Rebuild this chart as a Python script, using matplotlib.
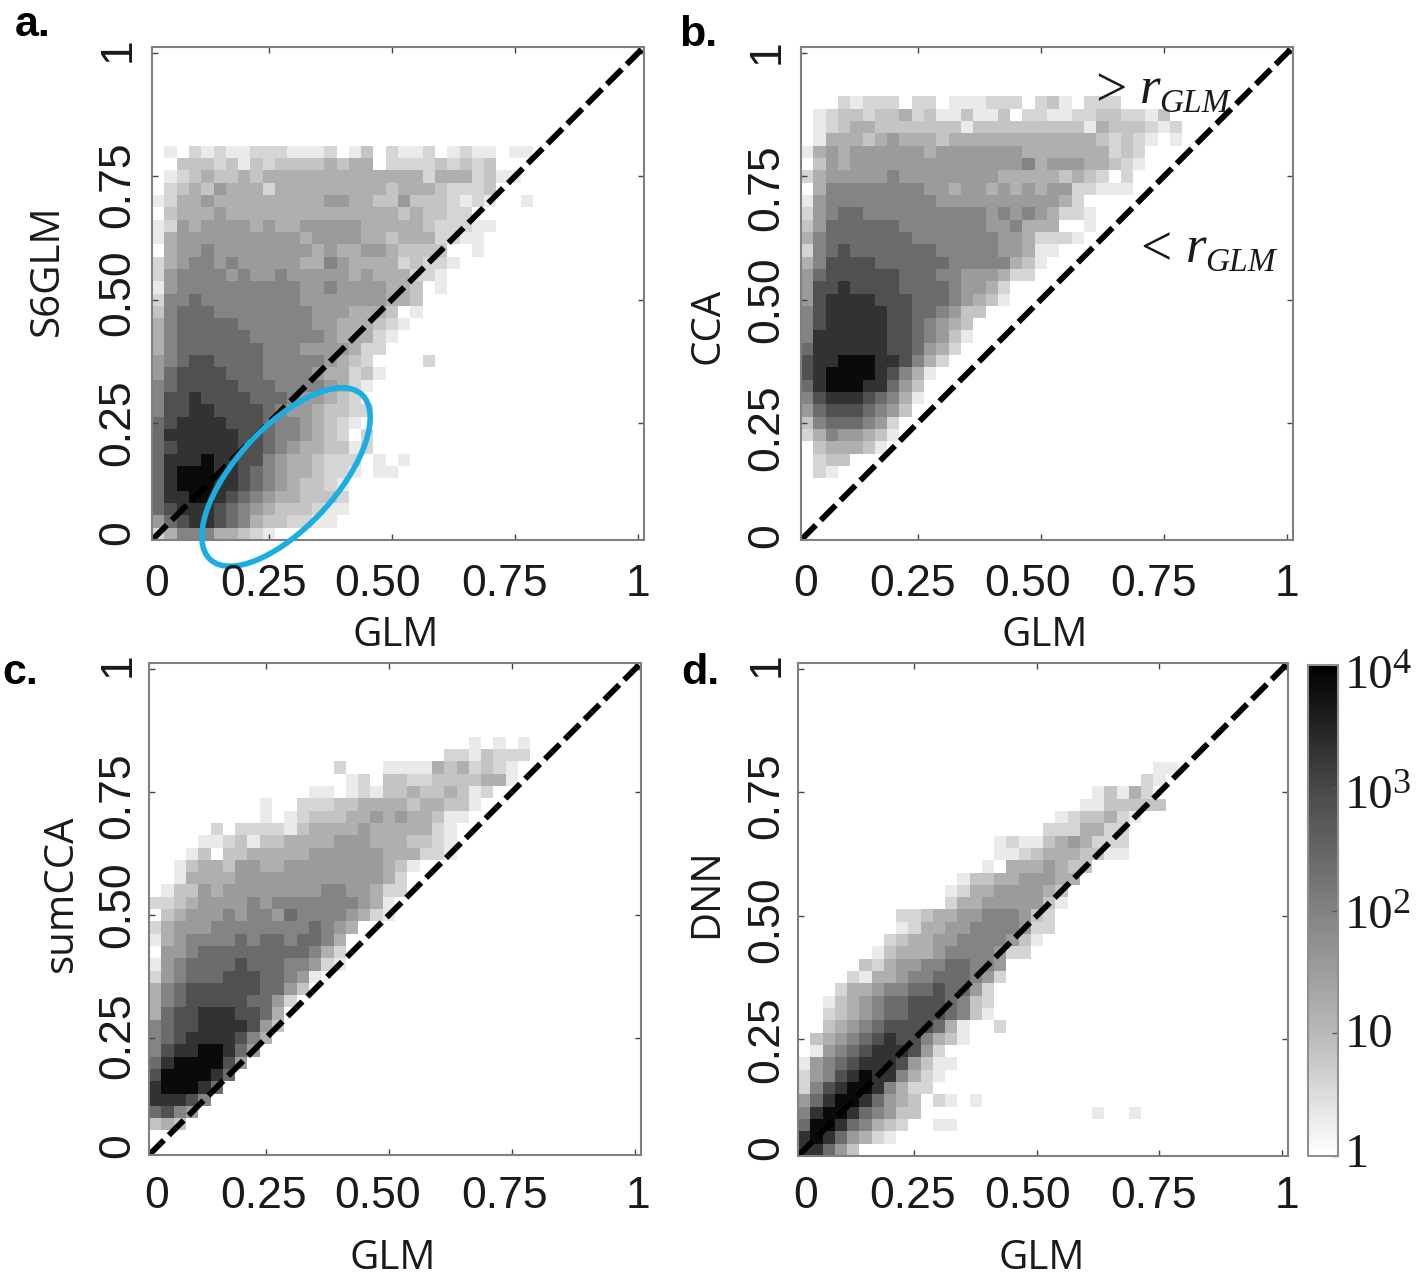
import numpy as np
import matplotlib
matplotlib.use("Agg")
import matplotlib.pyplot as plt
from matplotlib.colors import LinearSegmentedColormap, LogNorm
from matplotlib.patches import Ellipse

W, H = 1418, 1278

# each row is one line of bins, top row first, last row is the bottom of the axes
# digit = darkness, . = empty bin
a_rows = [
    ".0.10 10011 10001 .02.1 001.0 100.0 0",
    "..222 12021 22223 233.1 11121 212",
    ".0123 22323 33333 33333 33133 31200",
    ".1232 43331 33333 33332 33321 112",
    "01334 33333 33334 43322 42221 010.. 0",
    ".2333 43333 33333 33333 23221 1",
    "01434 44434 33444 44333 33211 100",
    "03444 44444 44344 44332 33311 00",
    ".3445 44444 44434 33443 2222. .0",
    "13455 45444 44335 43333 12110",
    "14555 54544 54444 43433 3110",
    "04555 55555 55445 44443 32.0",
    "15565 55555 55444 44443 32",
    "25666 55555 55544 43332 .0",
    "35666 66555 55544 33321 0",
    "35666 66655 55554 33310",
    "35666 66665 55444 4311",
    "45677 66665 55554 321.. ..1",
    "46777 76665 55543 3120",
    "56777 77666 55554 310",
    "57787 77766 65443 21",
    "57788 77776 54432 211",
    "67888 87776 55432 10",
    "68888 88776 55432 1.1",
    "67888 88776 54332 201",
    "68889 88775 43321 11.0. 0",
    "68999 88765 43321 10.00",
    "68999 88765 43221 0",
    "68899 87654 33222 1",
    "67888 76543 22210 0",
    "46788 76532 21100",
    "13555 33210",
]

b_rows = [
    "...10 111.1 1.000 111.1 20.11 1",
    ".0122 12231 20020 02.11 00112 21102",
    ".0123 32222 22202 22222 22203 22210 1",
    ".0333 23433 32333 33333 33332 1210. 0",
    "03434 44444 34444 44433 33333 121",
    ".2434 44444 44444 44453 44433 210",
    "13444 44544 44444 43333 32321 .1",
    ".3555 55555 44344 34343 44110 00",
    "04555 55555 54444 44444 431",
    "14566 55555 55555 45454 3110",
    "24666 66655 55555 44533 3..0",
    "35666 66665 55555 54431 110",
    "15676 66666 65555 54430 0",
    "35777 76666 66555 55320",
    "46777 77766 65544 4311",
    "47787 77766 66544 31",
    "47888 87776 66543 20",
    "57888 88776 65422",
    "57888 88776 5432",
    "58888 88776 5420",
    "68888 88776 431",
    "78899 98875 31",
    "78999 98753 0",
    "68999 88642",
    "57888 76530",
    "46777 6542",
    "25666 541",
    "13544 320",
    ".2333 20",
    ".122",
    ".10",
    "", "", "", "", "",
]

c_rows = [
    "..... ..... ..... ..... ..... .0.0. 0",
    "..... ..... ..... ..... ....1 10211 1",
    "..... ..... ..... 1...0 00032 31210",
    "..... ..... ..... .01.2 21122 22330",
    "..... ..... ...00 .0102 23223 201",
    "..... ....0 ..111 22333 32332 20",
    "..... ....0 .0122 23343 43320 0",
    "..... 1.111 10233 33433 33310",
    "....0 01202 23333 44433 32210",
    "...02 .2233 33344 44443 33110",
    "..023 32443 34444 44443 20",
    "..033 33444 44444 44443 1",
    ".0224 34444 44445 54431 1",
    "11234 44454 55555 55430",
    ".2344 45455 46555 54310",
    "13444 55555 55565 43",
    "03455 55656 65665 3",
    ".4456 66666 66653 1",
    "04566 66766 65541 0",
    "14566 67776 6540",
    "35677 77776 642",
    "35677 77766 41",
    "36778 88776 3",
    "56778 88874 2",
    "56788 88753",
    "57889 9864",
    "68999 974",
    "79999 86",
    "89998 6",
    "88875",
    "6754",
    "232",
    "", "",
]

d_rows = [
    "..... ..... ..... ..... ..... ....0 0",
    "..... ..... ..... ..... ..... ...10",
    "..... ..... ..... ..... ....0 2031",
    "..... ..... ..... ..... ...00 22222",
    "..... ..... ..... ..... .0122 310",
    "..... ..... ..... ..... 11133 11",
    "..... ..... ..... .0100 23431 11",
    "..... ..... ..... .0012 33322 00",
    "..... ..... ..... 0.333 4322",
    "..... ..... ...02 23344 433",
    "..... ..... ..013 34444 32",
    "..... ..... ..133 44444 20",
    "..... ...11 23344 55542 1",
    "..... ...01 33445 55541 1",
    "..... ..123 34455 55420",
    "..... .0233 34555 5411",
    "..... 21344 55665 54",
    "....1 03345 56665 41",
    "...13 34556 67664 1",
    "..023 45667 77652 1",
    "..123 45667 77652 0",
    "..234 56777 7630. .1",
    ".2345 67877 5320",
    ".0456 78887 41",
    "04567 88874 200",
    "14578 98853 10",
    "15789 98531 1",
    "46899 86432 .10.0",
    "58998 65422 ..... ..... ....0 ..0",
    "69986 5321. .00",
    "89864 310",
    "88642",
]

# counts behind the digits 0-9, read against the colorbar
level_counts = [2, 4, 7, 15, 35, 90, 240, 700, 2000, 7000]

ylabels = ["S6GLM", "CCA", "sumCCA", "DNN"]
tick_texts = ["0", "0.25", "0.50", "0.75", "1"]
cbar_ticks = [1, 10, 100, 1000, 10000]


def to_grid(rows):
    grid = np.full((40, 40), np.nan)
    for i, row in enumerate(rows[::-1]):
        row = row.replace(" ", "")
        for j, ch in enumerate(row):
            if ch != ".":
                grid[i, j] = level_counts[int(ch)]
    return grid


# greys taken from the colorbar, white at 1 and black at 10^4
cmap = LinearSegmentedColormap.from_list(
    "bar", [(0, "#ffffff"), (0.25, "#b9b9b9"), (0.5, "#828282"), (0.75, "#484848"), (1, "#000000")])
norm = LogNorm(1, 1e4)

fig = plt.figure(figsize=(W / 100, H / 100), dpi=100)


def px_axes(left, top, right, bottom):
    return fig.add_axes([left / W, 1 - bottom / H, (right - left) / W, (bottom - top) / H])


boxes = [(152, 47, 644, 540), (801, 47, 1293, 540), (149, 663, 641, 1155), (798, 663, 1288, 1156)]
edges = 0.0125 + 0.025 * np.arange(41)

mesh = None
for box, rows in zip(boxes, [a_rows, b_rows, c_rows, d_rows]):
    ax = px_axes(*box)
    mesh = ax.pcolormesh(edges, edges, np.ma.masked_invalid(to_grid(rows)), cmap=cmap, norm=norm)
    ax.plot([0.0125, 1.0125], [0.0125, 1.0125], color="black", lw=4.2, ls=(0, (3.6, 1.2)))
    ax.set_xlim(0.0125, 1.0125)
    ax.set_ylim(0.0125, 1.0125)
    ax.set_xticks([0.25, 0.5, 0.75, 1])
    ax.set_yticks([0.25, 0.5, 0.75, 1])
    ax.set_xticklabels([])
    ax.set_yticklabels([])
    ax.tick_params(direction="in", length=4, width=1, color="#444444", top=True, right=True)
    for s in ax.spines.values():
        s.set_color("#808080")
        s.set_linewidth(1.5)

cax = px_axes(1308, 665, 1338, 1156)
cb = fig.colorbar(mesh, cax=cax)
cb.set_ticks(cbar_ticks)
cb.set_ticklabels([])
cb.ax.minorticks_off()
cb.ax.tick_params(direction="in", length=4, width=1, color="#555555")
cb.outline.set_edgecolor("#909090")
cb.outline.set_linewidth(1.5)

# overlay in picture pixels for the pasted text and the ellipse
ov = fig.add_axes([0, 0, 1, 1], zorder=10)
ov.set_xlim(0, W)
ov.set_ylim(H, 0)
ov.axis("off")
ov.patch.set_alpha(0)

ov.add_patch(Ellipse((286, 477), 224, 100, angle=-47.5, fill=False, edgecolor="#1BAEE1", lw=4))

tick_font = dict(family=["Liberation Sans"], fontsize=32, color="#1a1a1a", ha="center", va="center")
label_font = dict(family=["Open Sans"], fontsize=29, color="#1a1a1a", ha="center", va="center")
serif = dict(family=["Liberation Serif"], color="#1a1a1a", va="baseline")

for y, xs in [(584, [157, 264, 378, 505, 638]), (584, [806, 913, 1028, 1154, 1287]),
              (1196, [157, 264, 378, 505, 638]), (1196, [806, 913, 1028, 1154, 1287])]:
    for x, t in zip(xs, tick_texts):
        ov.text(x, y, t, **tick_font)

for x, ys in [(118, [533, 423, 293, 185, 50]), (767, [536, 428, 300, 188, 52]),
              (118, [1146, 1036, 905, 796, 665]), (767, [1148, 1040, 920, 796, 665])]:
    for y, t in zip(ys, tick_texts):
        ov.text(x, y, t, rotation=90, **tick_font)

for x, y in [(396, 636), (1045, 636), (393, 1259), (1042, 1259)]:
    ov.text(x, y, "GLM", **label_font)

for (x, y), t in zip([(48, 270), (708, 326), (62, 893), (707, 893)], ylabels):
    ov.text(x, y, t, rotation=90, **label_font)

for (x, y), t in zip([(33, 25), (698, 35), (20, 673), (700, 673)], ["a.", "b.", "c.", "d."]):
    ov.text(x, y, t, family=["Liberation Sans"], fontsize=31, fontweight="bold", ha="center", va="center")

# > r_GLM and < r_GLM
ov.text(1095, 106, ">", fontsize=40, **serif)
ov.text(1140, 103, "r", fontsize=38, style="italic", **serif)
ov.text(1159, 112, "GLM", fontsize=24, style="italic", **serif)
ov.text(1140, 265, "<", fontsize=40, **serif)
ov.text(1186, 262, "r", fontsize=38, style="italic", **serif)
ov.text(1205, 271, "GLM", fontsize=24, style="italic", **serif)

# colorbar labels
for y, sup in [(688, "4"), (808, "3"), (928, "2")]:
    ov.text(1345, y, "10", fontsize=35, **serif)
    ov.text(1392, y - 15, sup, fontsize=26, **serif)
ov.text(1345, 1047, "10", fontsize=35, **serif)
ov.text(1345, 1167, "1", fontsize=35, **serif)

fig.savefig("out.png", dpi=100)
